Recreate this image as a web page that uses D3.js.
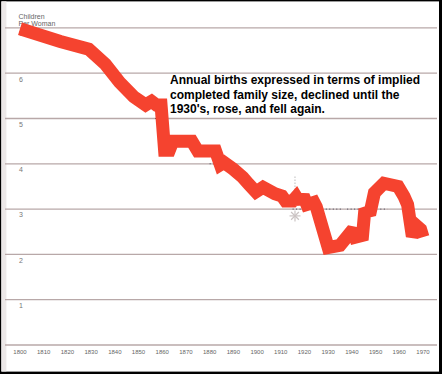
<!DOCTYPE html>
<meta charset="utf-8">
<style>
  body { margin: 0; background: #fff; }
  svg { display: block; }
  text { font-family: "Liberation Sans", Arial, sans-serif; }
</style>
<script src="https://d3js.org/d3.v7.min.js"></script>
<div id="chart"></div>
<script>
  // children per woman
  var years  = [1800, 1817, 1829, 1836, 1842, 1848, 1853, 1855.5, 1857.5, 1859.5, 1861, 1863, 1864.5,
                1872.5, 1875, 1882.5, 1884.5, 1886, 1890, 1894, 1896.5, 1899.5, 1902.5, 1907.5, 1910.5,
                1912, 1915, 1916.5, 1918, 1919.5, 1921, 1924, 1925, 1930, 1935, 1940.5, 1941.5, 1944.5,
                1945.5, 1947.5, 1949.5, 1953.5, 1959.5, 1962, 1963.5, 1965.5, 1967.5, 1969, 1970]
  var values = [6.98, 6.7, 6.53, 6.2, 5.8, 5.48, 5.3, 5.38, 5.3, 5.3, 4.3, 4.3, 4.5,
                4.5, 4.28, 4.28, 3.98, 4.03, 3.88, 3.7, 3.55, 3.38, 3.48, 3.34, 3.29,
                3.18, 3.18, 3.27, 3.14, 3.3, 3.1, 3.15, 3.05, 2.15, 2.2, 2.55, 2.38, 2.42,
                3.0, 2.88, 3.36, 3.57, 3.5, 3.28, 3.1, 2.4, 2.62, 2.55, 2.38]

  var yTicks = [1, 2, 3, 4, 5, 6, 7]
  var gridValues = [0, 1, 2, 3, 4, 5, 6, 7]
  var xTicks = d3.range(1800, 1971, 10)

  var note = ["Annual births expressed in terms of implied",
              "completed family size, declined until the",
              "1930's, rose, and fell again."]

  // dotted marks left on the grid lines [from year, to year, value]
  var dots = [[1857, 1861, 5], [1880, 1887, 4], [1915, 1921, 3], [1929, 1936, 3],
              [1938, 1946, 3], [1952, 1955, 3]]

  var width = 442, height = 374

  var x = d3.scaleLinear().domain([1800, 1970]).range([20, 423])
  var y = d3.scaleLinear().domain([0, 7]).range([345, 27.9])

  var svg = d3.select("#chart").append("svg")
    .attr("width", width)
    .attr("height", height)

  // black frame, heavier on right and bottom
  svg.append("rect").attr("width", width).attr("height", height).attr("fill", "#000")
  svg.append("rect")
    .attr("x", 1.4).attr("y", 1.4)
    .attr("width", 437.6).attr("height", 370.2)
    .attr("fill", "#fff")
  // faint stippled strip down the left side
  svg.append("rect")
    .attr("x", 1.4).attr("y", 1.4)
    .attr("width", 5).attr("height", 370)
    .attr("fill", "#ece8e8")

  // grid lines
  svg.selectAll(".grid")
    .data(gridValues)
    .enter()
    .append("line")
      .attr("x1", 5).attr("x2", 437)
      .attr("y1", function(d) { return y(d) })
      .attr("y2", function(d) { return y(d) })
      .attr("stroke", "#b8a8a8")
      .attr("stroke-width", 1.3)

  svg.selectAll(".dots")
    .data(dots)
    .enter()
    .append("line")
      .attr("x1", function(d) { return x(d[0]) })
      .attr("x2", function(d) { return x(d[1]) })
      .attr("y1", function(d) { return y(d[2]) })
      .attr("y2", function(d) { return y(d[2]) })
      .attr("stroke", "#445")
      .attr("stroke-width", 1)
      .attr("stroke-dasharray", "1,2.5")

  // y labels, sitting just under each grid line
  svg.selectAll(".ylab")
    .data(yTicks)
    .enter()
    .append("text")
      .attr("x", 19)
      .attr("y", function(d) { return y(d) + 8.3 })
      .attr("font-size", 7)
      .attr("fill", "#777")
      .text(function(d) { return d })

  svg.append("text").attr("x", 18.5).attr("y", 18.5)
    .attr("font-size", 7).attr("fill", "#666").text("Children")
  svg.append("text").attr("x", 18.5).attr("y", 25.5)
    .attr("font-size", 7).attr("fill", "#666").text("Per Woman")

  // x labels
  svg.selectAll(".xlab")
    .data(xTicks)
    .enter()
    .append("text")
      .attr("x", function(d) { return x(d) })
      .attr("y", 354)
      .attr("text-anchor", "middle")
      .attr("font-size", 6)
      .attr("fill", "#666")
      .text(function(d) { return d })

  // the marker at 1916
  var sx = x(1916), sy = y(2.85)
  svg.append("line")
    .attr("x1", sx).attr("x2", sx)
    .attr("y1", y(3.72)).attr("y2", y(3.06))
    .attr("stroke", "#bbb").attr("stroke-width", 1)
    .attr("stroke-dasharray", "1.5,1.5")
  svg.append("g")
    .attr("transform", "translate(" + sx + "," + sy + ")")
    .selectAll("line")
    .data([0, 45, 90, 135])
    .enter()
    .append("line")
      .attr("x1", -5.5).attr("x2", 5.5)
      .attr("transform", function(d) { return "rotate(" + d + ")" })
      .attr("stroke", "#cbc4c4")
      .attr("stroke-width", 1.2)

  // the thick red line
  var line = d3.line()
    .x(function(d) { return x(d[0]) })
    .y(function(d) { return y(d[1]) })

  svg.append("path")
    .datum(d3.zip(years, values))
    .attr("d", line)
    .attr("fill", "none")
    .attr("stroke", "#f5432f")
    .attr("stroke-width", 13)
    .attr("stroke-linejoin", "miter")
    .attr("stroke-miterlimit", 2)

  // annotation
  svg.append("g").selectAll("text")
    .data(note)
    .enter()
    .append("text")
      .attr("x", 170)
      .attr("y", function(d, i) { return 84 + i * 14.5 })
      .attr("font-size", 12)
      .attr("font-weight", "bold")
      .attr("fill", "#000")
      .text(function(d) { return d })
</script>
